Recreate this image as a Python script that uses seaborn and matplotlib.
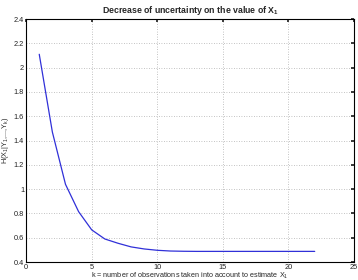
import numpy as np
import pandas as pd
import seaborn as sns
import matplotlib
matplotlib.use('Agg')
import matplotlib.pyplot as plt

k_values = list(range(1, 23))
entropy = [2.11, 1.47, 1.04, 0.815, 0.665, 0.59, 0.555, 0.525, 0.508, 0.497,
           0.491, 0.489, 0.488, 0.488, 0.488, 0.488, 0.488, 0.488, 0.488, 0.488,
           0.488, 0.488]

x_ticks = [0, 5, 10, 15, 20, 25]
y_ticks = [0.4, 0.6, 0.8, 1, 1.2, 1.4, 1.6, 1.8, 2, 2.2, 2.4]

df = pd.DataFrame({'k': k_values, 'H': entropy})

sns.set_theme(style='white')
plt.rcParams['font.family'] = ['Liberation Sans', 'DejaVu Sans']
plt.rcParams['mathtext.default'] = 'regular'

fig = plt.figure(figsize=(3.58, 2.8), dpi=100)
ax = fig.add_axes([0.073, 0.064, 0.916, 0.868])

sns.lineplot(data=df, x='k', y='H', ax=ax, color='#3030d8', linewidth=0.9)

ax.set_xlim(0, 25)
ax.set_ylim(0.4, 2.4)
ax.set_xticks(x_ticks)
ax.set_yticks(y_ticks)
ax.set_yticklabels([f'{v:g}' for v in y_ticks])
ax.grid(True, linestyle=(0, (1, 2)), color='#b0b0b0', linewidth=0.6)
ax.tick_params(direction='in', length=2, labelsize=5.3, top=True, right=True,
               pad=1.5, colors='#222222')
for s in ax.spines.values():
    s.set_color('black')
    s.set_linewidth(0.8)

ax.set_title('Decrease of uncertainty on the value of X$_1$', fontsize=6.3,
             fontweight='bold', pad=4)
ax.set_xlabel('k = number of observations taken into account to estimate X$_1$',
              fontsize=5.2, labelpad=0)
ax.set_ylabel('H(X$_1$|Y$_1$,...,Y$_k$)', fontsize=5.2, labelpad=2)

fig.savefig('out.png', dpi=100)
